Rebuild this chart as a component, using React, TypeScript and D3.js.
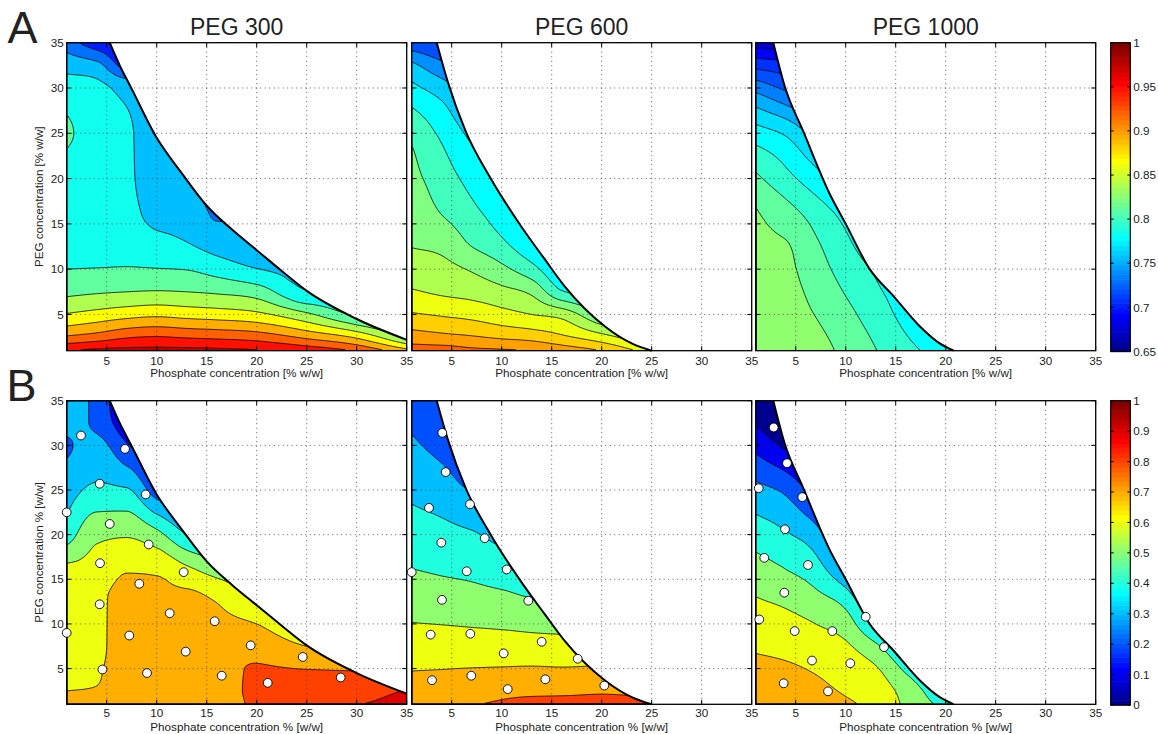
import React from 'react';
import * as d3 from 'd3';

// ---------------- data ----------------
const xTickValues = [5, 10, 15, 20, 25, 30, 35];
const yTickValues = [5, 10, 15, 20, 25, 30, 35];
const gridLineValues = [5, 10, 15, 20, 25, 30];
const colorbarTicksA = [0.65, 0.7, 0.75, 0.8, 0.85, 0.9, 0.95, 1];
const colorbarTicksB = [0, 0.1, 0.2, 0.3, 0.4, 0.5, 0.6, 0.7, 0.8, 0.9, 1];
const titles = ['PEG 300', 'PEG 600', 'PEG 1000'];

// sample nodes of the value grids (phosphate %, PEG %)
const gridX = [1, 4, 7, 10, 13, 16, 20, 25, 30, 35];
const gridY = [1, 2.5, 5, 7.5, 10, 13, 16, 20, 25, 30, 32.5, 35];

const levelsA300 = [0.7, 0.7275, 0.755, 0.7825, 0.81, 0.8375, 0.865, 0.8925, 0.92, 0.9475, 0.975];
const levelsA600 = [0.72, 0.74, 0.76, 0.78, 0.8, 0.82, 0.84, 0.86, 0.88, 0.9, 0.92];
const levelsA1000 = [0.675, 0.69, 0.705, 0.72, 0.735, 0.75, 0.765, 0.78, 0.795, 0.81, 0.825];
const levelsB = [0, 0.1, 0.2, 0.3, 0.4, 0.5, 0.6, 0.7, 0.8, 0.9];

// binodal curves
const binodal300X = [5.3, 6.3, 7.5, 10, 12.5, 15, 17.5, 20, 22.5, 25, 30, 35];
const binodal300Y = [35, 32.5, 29.9, 24.5, 20.6, 17.0, 14.4, 12.1, 9.8, 7.6, 4.5, 2.2];
const binodal600X = [3.5, 4.6, 6.4, 8.9, 11.9, 14.3, 16.3, 20.3, 23, 25];
const binodal600Y = [35, 30.7, 25.2, 20, 14.8, 11.1, 8.1, 3.7, 1.8, 1];
const binodal1000X = [2.76, 3.9, 5.76, 8.4, 10, 12.4, 14.8, 17.4, 19.4, 20.8];
const binodal1000Y = [35, 30.2, 25.2, 18.3, 15, 10, 7, 3.7, 1.8, 1];

// value grids, rows follow gridY (bottom to top), columns follow gridX
const fieldA300 = [
  [0.975, 0.982, 0.984, 0.984, 0.984, 0.982, 0.978, 0.966, 0.945, 0.902],
  [0.924, 0.933, 0.945, 0.949, 0.945, 0.942, 0.936, 0.9145, 0.888, 0.833],
  [0.867, 0.875, 0.8824, 0.887, 0.8824, 0.8788, 0.8714, 0.843, 0.8054, 0.7917],
  [0.8311, 0.8348, 0.8375, 0.8393, 0.8375, 0.8338, 0.8247, 0.7843, 0.7825, 0.7733],
  [0.81, 0.8109, 0.8118, 0.8109, 0.8091, 0.799, 0.7834, 0.7733, 0.7688, 0.7642],
  [0.8008, 0.8008, 0.8008, 0.7917, 0.7825, 0.7688, 0.7623, 0.7642, 0.7642, 0.7596],
  [0.7981, 0.7963, 0.7917, 0.7733, 0.7688, 0.7532, 0.755, 0.7596, 0.7596, 0.755],
  [0.8008, 0.7963, 0.7871, 0.7688, 0.7568, 0.7504, 0.7504, 0.755, 0.755, 0.755],
  [0.8128, 0.8008, 0.7871, 0.766, 0.755, 0.7504, 0.7504, 0.7504, 0.7504, 0.7504],
  [0.7963, 0.7898, 0.7733, 0.7596, 0.7504, 0.7458, 0.7458, 0.7458, 0.7458, 0.7458],
  [0.7724, 0.7633, 0.7183, 0.7504, 0.7458, 0.7413, 0.7413, 0.7413, 0.7413, 0.7413],
  [0.7413, 0.7092, 0.6908, 0.7367, 0.7367, 0.7367, 0.7367, 0.7367, 0.7367, 0.7367],
];
const fieldA600 = [
  [0.930, 0.930, 0.925, 0.923, 0.920, 0.912, 0.900, 0.870, 0.840, 0.820],
  [0.910, 0.906, 0.902, 0.897, 0.893, 0.884, 0.868, 0.840, 0.815, 0.800],
  [0.882, 0.878, 0.874, 0.867, 0.860, 0.853, 0.820, 0.800, 0.790, 0.780],
  [0.862, 0.857, 0.853, 0.846, 0.836, 0.802, 0.790, 0.780, 0.770, 0.760],
  [0.850, 0.846, 0.838, 0.825, 0.807, 0.780, 0.770, 0.765, 0.760, 0.750],
  [0.838, 0.834, 0.817, 0.803, 0.782, 0.765, 0.760, 0.755, 0.750, 0.745],
  [0.833, 0.820, 0.806, 0.790, 0.770, 0.755, 0.750, 0.750, 0.745, 0.740],
  [0.826, 0.810, 0.793, 0.775, 0.760, 0.750, 0.745, 0.745, 0.740, 0.735],
  [0.816, 0.796, 0.775, 0.760, 0.750, 0.740, 0.740, 0.740, 0.735, 0.730],
  [0.785, 0.770, 0.750, 0.745, 0.740, 0.735, 0.735, 0.735, 0.730, 0.725],
  [0.765, 0.745, 0.735, 0.735, 0.730, 0.730, 0.730, 0.730, 0.725, 0.720],
  [0.725, 0.720, 0.720, 0.720, 0.720, 0.720, 0.720, 0.720, 0.720, 0.720],
];
const fieldA1000 = [
  [0.836, 0.834, 0.832, 0.820, 0.8105, 0.800, 0.787, 0.775, 0.765, 0.760],
  [0.835, 0.833, 0.829, 0.818, 0.808, 0.796, 0.782, 0.770, 0.762, 0.755],
  [0.834, 0.832, 0.8245, 0.814, 0.803, 0.790, 0.775, 0.765, 0.758, 0.750],
  [0.832, 0.830, 0.8205, 0.809, 0.798, 0.785, 0.768, 0.760, 0.754, 0.748],
  [0.830, 0.828, 0.8163, 0.804, 0.7925, 0.775, 0.760, 0.755, 0.750, 0.745],
  [0.828, 0.8255, 0.8116, 0.798, 0.782, 0.765, 0.755, 0.750, 0.745, 0.740],
  [0.8265, 0.817, 0.804, 0.790, 0.772, 0.755, 0.748, 0.745, 0.740, 0.735],
  [0.813, 0.800, 0.786, 0.772, 0.760, 0.748, 0.740, 0.738, 0.735, 0.730],
  [0.787, 0.778, 0.760, 0.750, 0.740, 0.730, 0.728, 0.725, 0.722, 0.720],
  [0.745, 0.732, 0.720, 0.710, 0.700, 0.700, 0.700, 0.700, 0.700, 0.700],
  [0.715, 0.710, 0.700, 0.690, 0.685, 0.685, 0.685, 0.685, 0.685, 0.685],
  [0.683, 0.680, 0.675, 0.670, 0.670, 0.670, 0.670, 0.670, 0.670, 0.670],
];
const fieldB300 = [
  [0.715, 0.725, 0.740, 0.750, 0.760, 0.775, 0.810, 0.840, 0.895, 0.930],
  [0.700, 0.705, 0.735, 0.745, 0.760, 0.780, 0.810, 0.830, 0.860, 0.905],
  [0.660, 0.690, 0.735, 0.745, 0.755, 0.775, 0.805, 0.798, 0.790, 0.780],
  [0.640, 0.680, 0.735, 0.745, 0.750, 0.755, 0.765, 0.700, 0.660, 0.640],
  [0.635, 0.680, 0.730, 0.735, 0.740, 0.730, 0.700, 0.580, 0.550, 0.520],
  [0.640, 0.680, 0.725, 0.720, 0.720, 0.685, 0.575, 0.520, 0.480, 0.450],
  [0.620, 0.640, 0.695, 0.690, 0.625, 0.560, 0.520, 0.480, 0.450, 0.420],
  [0.450, 0.580, 0.590, 0.530, 0.400, 0.350, 0.300, 0.250, 0.200, 0.200],
  [0.360, 0.420, 0.410, 0.250, 0.200, 0.150, 0.150, 0.150, 0.150, 0.150],
  [0.290, 0.330, 0.210, 0.100, 0.050, 0.050, 0.050, 0.050, 0.050, 0.050],
  [0.330, 0.280, 0.130, 0.050, 0.050, 0.050, 0.050, 0.050, 0.050, 0.050],
  [0.360, 0.270, 0.100, 0.050, 0.050, 0.050, 0.050, 0.050, 0.050, 0.050],
];
const fieldB600 = [
  [0.760, 0.775, 0.795, 0.810, 0.820, 0.825, 0.830, 0.820, 0.810, 0.800],
  [0.740, 0.750, 0.765, 0.780, 0.785, 0.785, 0.790, 0.780, 0.770, 0.760],
  [0.695, 0.698, 0.702, 0.705, 0.708, 0.705, 0.710, 0.700, 0.690, 0.680],
  [0.650, 0.650, 0.645, 0.645, 0.640, 0.635, 0.630, 0.620, 0.610, 0.600],
  [0.603, 0.598, 0.592, 0.585, 0.575, 0.570, 0.560, 0.550, 0.540, 0.530],
  [0.550, 0.540, 0.532, 0.520, 0.500, 0.500, 0.490, 0.480, 0.470, 0.460],
  [0.503, 0.490, 0.477, 0.450, 0.440, 0.440, 0.430, 0.420, 0.410, 0.400],
  [0.445, 0.430, 0.410, 0.380, 0.380, 0.380, 0.370, 0.360, 0.350, 0.340],
  [0.380, 0.350, 0.300, 0.300, 0.300, 0.300, 0.300, 0.290, 0.280, 0.270],
  [0.315, 0.270, 0.220, 0.220, 0.220, 0.220, 0.220, 0.220, 0.220, 0.220],
  [0.285, 0.240, 0.200, 0.200, 0.200, 0.200, 0.200, 0.200, 0.200, 0.200],
  [0.255, 0.220, 0.180, 0.180, 0.180, 0.180, 0.180, 0.180, 0.180, 0.180],
];
const fieldB1000 = [
  [0.760, 0.755, 0.745, 0.715, 0.670, 0.585, 0.470, 0.400, 0.350, 0.300],
  [0.755, 0.745, 0.725, 0.690, 0.655, 0.565, 0.420, 0.350, 0.300, 0.250],
  [0.730, 0.715, 0.690, 0.655, 0.610, 0.480, 0.350, 0.300, 0.250, 0.200],
  [0.685, 0.670, 0.645, 0.615, 0.520, 0.380, 0.300, 0.250, 0.200, 0.150],
  [0.640, 0.630, 0.600, 0.550, 0.380, 0.300, 0.250, 0.200, 0.150, 0.100],
  [0.601, 0.575, 0.525, 0.450, 0.250, 0.200, 0.150, 0.100, 0.100, 0.100],
  [0.545, 0.503, 0.445, 0.300, 0.100, 0.100, 0.100, 0.050, 0.050, 0.050],
  [0.455, 0.410, 0.340, 0.150, 0.000, 0.000, 0.000, 0.000, 0.000, 0.000],
  [0.330, 0.280, 0.150, 0.000, -0.100, -0.100, -0.100, -0.100, -0.100, -0.100],
  [0.170, 0.080, 0.000, -0.100, -0.100, -0.100, -0.100, -0.100, -0.100, -0.100],
  [0.090, 0.000, -0.050, -0.100, -0.100, -0.100, -0.100, -0.100, -0.100, -0.100],
  [0.000, -0.050, -0.100, -0.100, -0.100, -0.100, -0.100, -0.100, -0.100, -0.100],
];

// measured compositions (white circles)
const pointsB300X = [2.43, 6.83, 4.3, 8.9, 1.0, 5.3, 9.2, 4.33, 12.7, 8.26, 4.3, 11.3, 15.8, 1.0, 7.26, 19.4, 12.9, 24.6, 4.57, 9.03, 16.5, 28.4, 21.1];
const pointsB300Y = [31.1, 29.6, 25.7, 24.5, 22.5, 21.2, 18.9, 16.8, 15.8, 14.5, 12.2, 11.2, 10.3, 9.0, 8.7, 7.6, 6.9, 6.3, 4.9, 4.5, 4.2, 4.0, 3.4];
const pointsB600X = [4.06, 4.4, 2.73, 6.83, 3.96, 8.3, 1.0, 6.5, 10.5, 4.03, 12.66, 2.9, 6.86, 14.0, 10.2, 17.6, 3.03, 6.96, 14.36, 10.6, 20.26];
const pointsB600Y = [31.4, 27.0, 23.0, 23.4, 19.1, 19.6, 15.8, 15.9, 16.1, 12.7, 12.6, 8.8, 8.9, 8.0, 6.7, 6.1, 3.7, 4.2, 3.8, 2.7, 3.1];
const pointsB1000X = [2.8, 4.13, 1.3, 5.66, 3.93, 1.86, 6.23, 3.86, 12.0, 1.36, 4.9, 8.66, 13.83, 6.63, 10.46, 3.8, 8.23];
const pointsB1000Y = [32.0, 28.0, 25.2, 24.2, 20.6, 17.4, 16.6, 13.5, 10.8, 10.5, 9.2, 9.2, 7.4, 5.9, 5.6, 3.35, 2.45];

// ---------------- layout ----------------
const FONT = '"Liberation Sans", Arial, Helvetica, sans-serif';
const TEXT = '#222';
const panelLefts = [66.7, 411.7, 755.7];
const panelWidth = 340;
const rowTops = [42.7, 400.7];
const rowBottoms = [350.7, 704.3];
const NX = 170;
const NY = 154;
const NCOLORS = 64;

// jet colormap row k (1..64)
function jetRow(k: number): string {
  const t = k / NCOLORS;
  const c = (v: number) => Math.max(0, Math.min(1, v));
  const r = c(1.5 - Math.abs(4 * t - 3));
  const g = c(1.5 - Math.abs(4 * t - 2));
  const b = c(1.5 - Math.abs(4 * t - 1));
  return d3.rgb(r * 255, g * 255, b * 255).formatHex();
}
// scaled colour mapping: index = fix(t * 64) + 1
function jetMapped(t: number): string {
  const k = Math.max(1, Math.min(NCOLORS, Math.floor(t * NCOLORS + 1e-9) + 1));
  return jetRow(k);
}

function slopes(xs: number[], ys: number[]) {
  const n = xs.length;
  const h: number[] = [];
  const s: number[] = [];
  for (let k = 0; k < n - 1; k++) {
    h[k] = xs[k + 1] - xs[k];
    s[k] = (ys[k + 1] - ys[k]) / h[k];
  }
  const m = new Array(n).fill(0);
  m[0] = s[0];
  m[n - 1] = s[n - 2];
  for (let k = 1; k < n - 1; k++) {
    const p = (s[k - 1] * h[k] + s[k] * h[k - 1]) / (h[k - 1] + h[k]);
    m[k] = (Math.sign(s[k - 1]) + Math.sign(s[k])) * Math.min(Math.abs(s[k - 1]), Math.abs(s[k]), 0.5 * Math.abs(p));
  }
  return m;
}

function hermite(xs: number[], ys: number[], m: number[], x: number) {
  let k = 0;
  while (k < xs.length - 2 && x > xs[k + 1]) k++;
  const h = xs[k + 1] - xs[k];
  const t = Math.max(0, Math.min(1, (x - xs[k]) / h));
  const t2 = t * t;
  const t3 = t2 * t;
  return (2 * t3 - 3 * t2 + 1) * ys[k] + (t3 - 2 * t2 + t) * h * m[k] + (-2 * t3 + 3 * t2) * ys[k + 1] + (t3 - t2) * h * m[k + 1];
}

function buildValues(rows: number[][]) {
  const fineX = d3.range(NX).map((i) => 1 + ((i + 0.5) / NX) * 34);
  const fineY = d3.range(NY).map((j) => 35 - ((j + 0.5) / NY) * 34);
  const rowFine = rows.map((r) => {
    const m = slopes(gridX, r);
    return fineX.map((x) => hermite(gridX, r, m, x));
  });
  const values: number[] = new Array(NX * NY);
  for (let i = 0; i < NX; i++) {
    const col = rowFine.map((r) => r[i]);
    const m = slopes(gridY, col);
    for (let j = 0; j < NY; j++) values[j * NX + i] = hermite(gridY, col, m, fineY[j]);
  }
  return values;
}

type PanelProps = {
  id: string;
  col: number;
  row: number;
  field: number[][];
  levels: number[];
  cmin: number;
  cmax: number;
  bx: number[];
  by: number[];
  px?: number[];
  py?: number[];
  xLabel: string;
  yLabel: string;
};

function Panel(props: PanelProps) {
  const { id, col, row, field, levels, cmin, cmax, bx, by, px, py, xLabel, yLabel } = props;
  const left = panelLefts[col];
  const right = left + panelWidth;
  const top = rowTops[row];
  const bottom = rowBottoms[row];
  const x = d3.scaleLinear().domain([1, 35]).range([left, right]);
  const y = d3.scaleLinear().domain([1, 35]).range([bottom, top]);
  const colorOf = (v: number) => jetMapped((v - cmin) / (cmax - cmin));

  const values = buildValues(field);
  const contours = d3.contours().size([NX, NY]).thresholds(levels.slice(1))(values);
  const sx = (right - left) / NX;
  const sy = (bottom - top) / NY;
  const proj = d3.geoTransform({
    point(this: any, gx: number, gy: number) {
      this.stream.point(left + gx * sx, top + gy * sy);
    },
  });
  const geo = d3.geoPath(proj as any);

  const pts: [number, number][] = bx.map((v, i) => [v, by[i]]);
  const line = d3
    .line<[number, number]>()
    .x((d) => x(d[0]))
    .y((d) => y(d[1]))
    .curve(d3.curveMonotoneX);
  const bPath = line(pts) || '';
  const last = pts[pts.length - 1];
  const clipD = `${bPath}L${x(last[0])},${bottom}L${left},${bottom}L${left},${top}Z`;

  const tickLen = 4.5;
  return (
    <g>
      <defs>
        <clipPath id={`clip-${id}`}>
          <path d={clipD} />
        </clipPath>
      </defs>
      <g clipPath={`url(#clip-${id})`}>
        <rect x={left} y={top} width={panelWidth} height={bottom - top} fill={colorOf(levels[0])} />
        {contours.map((c, i) => (
          <path key={`f${i}`} d={geo(c as any) || ''} fill={colorOf(c.value)} stroke="none" />
        ))}
        {contours.map((c, i) => (
          <path key={`s${i}`} d={geo(c as any) || ''} fill="none" stroke="#000" strokeWidth={0.8} />
        ))}
      </g>
      {/* dotted grid */}
      {gridLineValues.map((v) => (
        <line key={`gx${v}`} x1={x(v)} x2={x(v)} y1={top} y2={bottom} stroke="#333" strokeWidth={0.8} strokeDasharray="1 3.5" />
      ))}
      {gridLineValues.map((v) => (
        <line key={`gy${v}`} x1={left} x2={right} y1={y(v)} y2={y(v)} stroke="#333" strokeWidth={0.8} strokeDasharray="1 3.5" />
      ))}
      {/* binodal */}
      <path d={bPath} fill="none" stroke="#000" strokeWidth={2} />
      {/* ticks */}
      {xTickValues.map((v) => (
        <g key={`xt${v}`}>
          <line x1={x(v)} x2={x(v)} y1={bottom} y2={bottom - tickLen} stroke="#000" strokeWidth={1} />
          <line x1={x(v)} x2={x(v)} y1={top} y2={top + tickLen} stroke="#000" strokeWidth={1} />
          <text x={x(v)} y={bottom + (row === 0 ? 14.3 : 12.6)} textAnchor="middle" fontSize={11.7} fontFamily={FONT} fill={TEXT}>
            {v}
          </text>
        </g>
      ))}
      {yTickValues.map((v) => (
        <g key={`yt${v}`}>
          <line x1={left} x2={left + tickLen} y1={y(v)} y2={y(v)} stroke="#000" strokeWidth={1} />
          <line x1={right} x2={right - tickLen} y1={y(v)} y2={y(v)} stroke="#000" strokeWidth={1} />
          {col === 0 && (
            <text x={left - 3} y={y(v) + 4.2} textAnchor="end" fontSize={11.7} fontFamily={FONT} fill={TEXT}>
              {v}
            </text>
          )}
        </g>
      ))}
      <rect x={left} y={top} width={panelWidth} height={bottom - top} fill="none" stroke="#000" strokeWidth={1.3} />
      <text x={(left + right) / 2} y={bottom + (row === 0 ? 26.6 : 27)} textAnchor="middle" fontSize={11.7} fontFamily={FONT} fill={TEXT}>
        {xLabel}
      </text>
      {col === 0 && (
        <text transform={`translate(43,${(top + bottom) / 2}) rotate(-90)`} textAnchor="middle" fontSize={11.6} fontFamily={FONT} fill={TEXT}>
          {yLabel}
        </text>
      )}
      {px &&
        py &&
        px.map((v, i) => <circle key={`p${i}`} cx={x(v)} cy={y(py[i])} r={4.4} fill="#fff" stroke="#000" strokeWidth={0.9} />)}
    </g>
  );
}

function Colorbar(props: { row: number; cmin: number; cmax: number; ticks: number[] }) {
  const { row, cmin, cmax, ticks } = props;
  const x0 = 1110.7;
  const x1 = 1130.3;
  const top = rowTops[row];
  const bottom = row === 0 ? 351.5 : 705;
  const y = d3.scaleLinear().domain([cmin, cmax]).range([bottom, top]);
  const h = (bottom - top) / NCOLORS;
  return (
    <g>
      {d3.range(1, NCOLORS + 1).map((k) => (
        <rect key={k} x={x0} y={bottom - k * h} width={x1 - x0} height={h + 0.6} fill={jetRow(k)} />
      ))}
      <rect x={x0} y={top} width={x1 - x0} height={bottom - top} fill="none" stroke="#000" strokeWidth={1.2} />
      {ticks.map((t) => (
        <g key={t}>
          <line x1={x0} x2={x0 + 3} y1={y(t)} y2={y(t)} stroke="#000" />
          <line x1={x1} x2={x1 - 3} y1={y(t)} y2={y(t)} stroke="#000" />
          <text x={x1 + 3} y={y(t) + 4.2} fontSize={11.7} fontFamily={FONT} fill={TEXT}>
            {String(+t.toFixed(2))}
          </text>
        </g>
      ))}
    </g>
  );
}

export default function App() {
  const xLabelA = 'Phosphate concentration [% w/w]';
  const yLabelA = 'PEG concentration [% w/w]';
  const xLabelB = 'Phosphate concentration % [w/w]';
  const yLabelB = 'PEG concentration % [w/w]';
  return (
    <svg width={1158} height={734} style={{ position: 'absolute', left: 0, top: 0, background: '#fff' }}>
      <rect x={0} y={0} width={1158} height={734} fill="#fff" />
      <text x={7.5} y={42.7} fontSize={45} fontFamily={FONT} fill={TEXT}>A</text>
      <text x={6.5} y={400.7} fontSize={45} fontFamily={FONT} fill={TEXT}>B</text>
      {titles.map((t, i) => (
        <text key={t} x={panelLefts[i] + panelWidth / 2} y={35} textAnchor="middle" fontSize={23} fontFamily={FONT} fill={TEXT}>
          {t}
        </text>
      ))}
      <Panel id="a1" col={0} row={0} field={fieldA300} levels={levelsA300} cmin={0.65} cmax={1} bx={binodal300X} by={binodal300Y} xLabel={xLabelA} yLabel={yLabelA} />
      <Panel id="a2" col={1} row={0} field={fieldA600} levels={levelsA600} cmin={0.65} cmax={1} bx={binodal600X} by={binodal600Y} xLabel={xLabelA} yLabel={yLabelA} />
      <Panel id="a3" col={2} row={0} field={fieldA1000} levels={levelsA1000} cmin={0.65} cmax={1} bx={binodal1000X} by={binodal1000Y} xLabel={xLabelA} yLabel={yLabelA} />
      <Panel id="b1" col={0} row={1} field={fieldB300} levels={levelsB} cmin={0} cmax={1} bx={binodal300X} by={binodal300Y} px={pointsB300X} py={pointsB300Y} xLabel={xLabelB} yLabel={yLabelB} />
      <Panel id="b2" col={1} row={1} field={fieldB600} levels={levelsB} cmin={0} cmax={1} bx={binodal600X} by={binodal600Y} px={pointsB600X} py={pointsB600Y} xLabel={xLabelB} yLabel={yLabelB} />
      <Panel id="b3" col={2} row={1} field={fieldB1000} levels={levelsB} cmin={0} cmax={1} bx={binodal1000X} by={binodal1000Y} px={pointsB1000X} py={pointsB1000Y} xLabel={xLabelB} yLabel={yLabelB} />
      <Colorbar row={0} cmin={0.65} cmax={1} ticks={colorbarTicksA} />
      <Colorbar row={1} cmin={0} cmax={1} ticks={colorbarTicksB} />
    </svg>
  );
}
